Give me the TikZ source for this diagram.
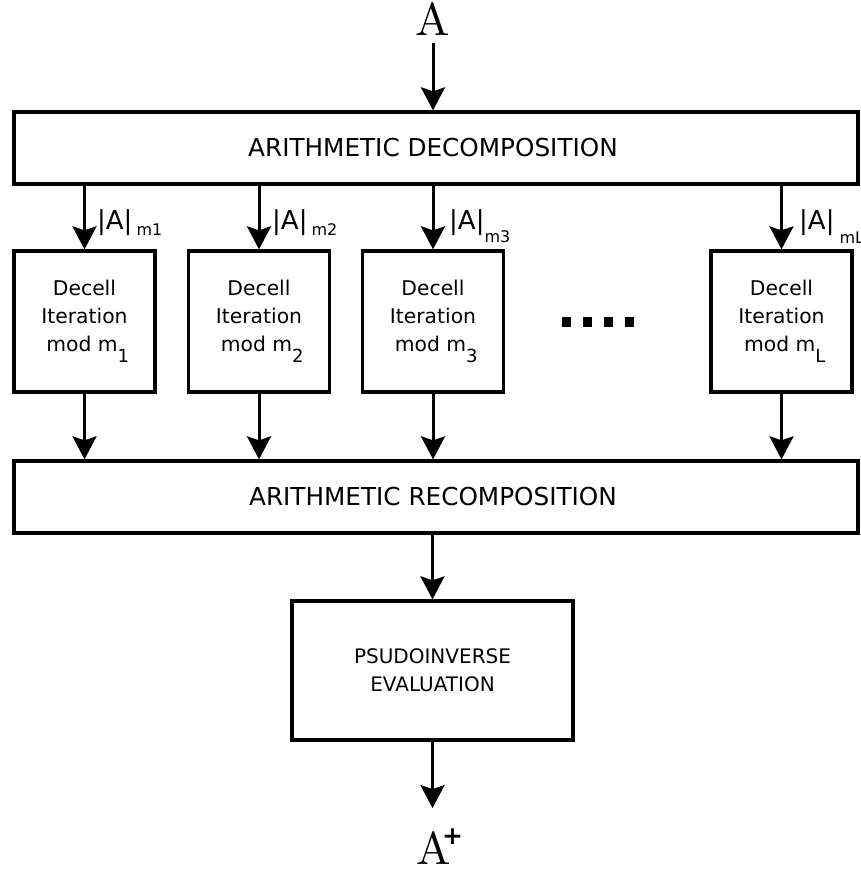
\documentclass[tikz,border=0pt]{standalone}
\usepackage{fontspec}
\setsansfont{DejaVu Sans}
\newfontfamily\iofont[Extension=.otf]{lmroman10-regular}
\usetikzlibrary{arrows.meta}
% lowered index of a given size and depth
\newcommand{\lowsub}[3]{\raisebox{-#2}{\fontsize{#1}{#1}\selectfont #3}}
\tikzset{
  box/.style={draw, line width=3.3pt, inner sep=0pt},
  arr/.style={line width=3pt, -{Stealth[length=23pt,width=24pt,inset=4pt]}},
  boxtext/.style={font=\sffamily\fontsize{20.3}{28}\selectfont, align=center},
  captext/.style={font=\sffamily\fontsize{24.7}{24.7}\selectfont},
  lbl/.style={font=\sffamily\fontsize{26}{26}\selectfont, inner sep=0pt, anchor=base west},
  io/.style={font=\iofont\fontsize{46}{46}\selectfont, inner sep=0pt}
}
\begin{document}
\begin{tikzpicture}[x=1pt,y=-1pt]
\useasboundingbox (0,0) rectangle (860,869);

% input and output symbols
\node[io, anchor=base] (in) at (433,36) {A};
\node[io, anchor=base west] (out) at (416.5,864) {A\kern-9pt\raisebox{20pt}{\sffamily\bfseries\fontsize{25}{25}\selectfont +}};

% decomposition and recomposition stages
\node[box, minimum width=844, minimum height=72] (dec) at (436,148) {};
\node[captext] (dect) at (433,148) {ARITHMETIC DECOMPOSITION};
\node[box, minimum width=844, minimum height=72] (rec) at (436,497) {};
\node[captext] (rect) at (433,497) {ARITHMETIC RECOMPOSITION};

% per-modulus Decell iterations
\node[box, minimum width=141, minimum height=141, boxtext] (d1) at (84.5,321.5) {Decell\\Iteration\\\ mod m\lowsub{18}{11pt}{1}};
\node[box, minimum width=141, minimum height=141, boxtext] (d2) at (259,321.5) {Decell\\Iteration\\\ mod m\lowsub{18}{11pt}{2}};
\node[box, minimum width=141, minimum height=141, boxtext] (d3) at (433,321.5) {Decell\\Iteration\\\ mod m\lowsub{18}{11pt}{3}};
\node[box, minimum width=141, minimum height=141, boxtext] (dL) at (781.5,321.5) {Decell\\Iteration\\\ mod m\lowsub{18}{11pt}{L}};

% ellipsis squares
\foreach \xx in {566,587,608,629}
  \fill (\xx-4.5,317) rectangle (\xx+4.5,327);

% final evaluation
\node[box, minimum width=281, minimum height=139, font=\sffamily\fontsize{20}{28}\selectfont, align=center] (pse) at (432.5,670.5) {PSUDOINVERSE\\EVALUATION};

% connectors
\draw[arr, shorten <=7pt] (in) -- (in |- dec.north);
\foreach \n in {d1,d2,d3,dL} {
  \draw[arr] (\n |- dec.south) -- (\n.north);
  \draw[arr] (\n.south) -- (\n |- rec.north);
}
\draw[arr] (pse |- rec.south) -- (pse.north);
\draw[arr, shorten >=20pt] (pse.south) -- (pse.south |- out.north);

% residue labels
\node[lbl] (l1) at (97,229) {|A|\kern4pt\lowsub{16}{6pt}{m1}};
\node[lbl] (l2) at (272,229) {|A|\kern4pt\lowsub{16}{6pt}{m2}};
\node[lbl] (l3) at (449,229) {|A|\lowsub{16}{13pt}{m3}};
\node[lbl] (lL) at (799,229) {|A|\kern5pt\lowsub{16}{14pt}{mL}};
\end{tikzpicture}
\end{document}
